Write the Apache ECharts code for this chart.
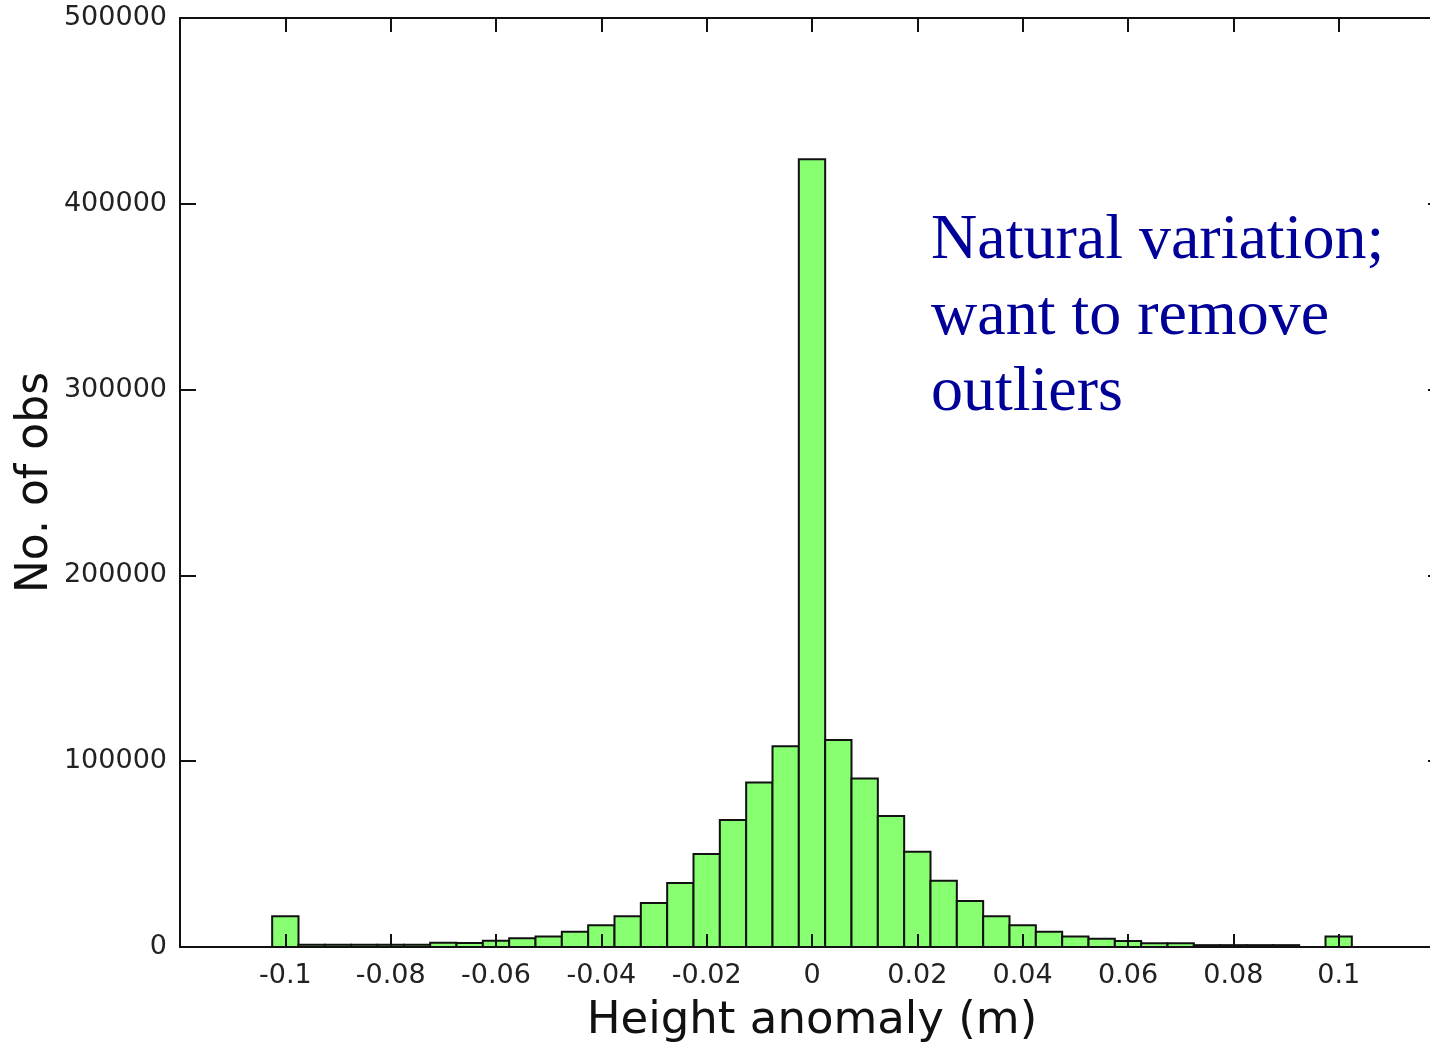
<!DOCTYPE html>
<html>
<head>
<meta charset="utf-8">
<script src="https://cdn.jsdelivr.net/npm/echarts@6/dist/echarts.min.js"></script>
<style>
  html, body { margin: 0; padding: 0; background: #fff; }
  #chart { width: 1430px; height: 1042px; }
</style>
</head>
<body>
<div id="chart"></div>
<script>
// Bin centres (m) of the height-anomaly histogram
const binCentres = [
  -0.100, -0.095, -0.090, -0.085, -0.080, -0.075, -0.070, -0.065, -0.060, -0.055,
  -0.050, -0.045, -0.040, -0.035, -0.030, -0.025, -0.020, -0.015, -0.010, -0.005,
   0.000,
   0.005,  0.010,  0.015,  0.020,  0.025,  0.030,  0.035,  0.040,  0.045,  0.050,
   0.055,  0.060,  0.065,  0.070,  0.075,  0.080,  0.085,  0.090,  0.095,  0.100
];
// Number of observations in each bin
const counts = [
  16500, 1200, 1200, 1200, 1200, 1200, 2300, 2100, 3400, 4700,
  5700, 8200, 11700, 16500, 23700, 34400, 50000, 68300, 88600, 108100,
  424000,
  111400, 90700, 70500, 51300, 35700, 24700, 16500, 11700, 8200, 5700,
  4500, 3200, 2000, 2000, 1000, 1000, 1000, 1000, 0, 5700
];
const binWidth = 0.005;
const xTickLabels = ['-0.1', '-0.08', '-0.06', '-0.04', '-0.02', '0', '0.02', '0.04', '0.06', '0.08', '0.1'];
const yTickLabels = ['0', '100000', '200000', '300000', '400000', '500000'];
const xTitle = 'Height anomaly (m)';
const yTitle = 'No. of obs';
const noteLines = ['Natural variation;', 'want to remove', 'outliers'];

const chart = echarts.init(document.getElementById('chart'), null, { renderer: 'canvas' });

const tickFont = { fontFamily: 'DejaVu Sans', fontSize: 27, color: '#222' };

function xLabel(v) {
  const r = Math.round(v * 100) / 100;
  const s = r === 0 ? '0' : String(r);
  return xTickLabels.indexOf(s) >= 0 ? s : '';
}
function yLabel(v) {
  const s = String(Math.round(v));
  return yTickLabels.indexOf(s) >= 0 ? s : '';
}

const axisLine = { show: true, onZero: false, lineStyle: { color: '#111', width: 2 } };

const option = {
  backgroundColor: '#fff',
  animation: false,
  grid: { left: 180, top: 18, width: 1264, height: 929, containLabel: false, outerBoundsMode: 'none' },
  xAxis: [
    {
      type: 'value', position: 'bottom', min: -0.12, max: 0.12, interval: 0.02,
      z: 10,
      axisLine: axisLine,
      axisTick: { show: true, inside: true, length: 13, lineStyle: { color: '#111', width: 2 } },
      axisLabel: Object.assign({ margin: 15, formatter: xLabel }, tickFont),
      splitLine: { show: false },
      name: xTitle, nameLocation: 'middle', nameGap: 52, nameMoveOverlap: false,
      nameTextStyle: { fontFamily: 'DejaVu Sans', fontSize: 45, color: '#111' }
    },
    {
      type: 'value', position: 'top', min: -0.12, max: 0.12, interval: 0.02,
      z: 10,
      axisLine: axisLine,
      axisTick: { show: true, inside: true, length: 14, lineStyle: { color: '#111', width: 2 } },
      axisLabel: { show: false },
      splitLine: { show: false }
    }
  ],
  yAxis: [
    {
      type: 'value', position: 'left', min: 0, max: 500000, interval: 100000,
      z: 10,
      axisLine: axisLine,
      axisTick: { show: true, inside: true, length: 16, lineStyle: { color: '#111', width: 2 } },
      axisLabel: Object.assign({ margin: 13, formatter: yLabel }, tickFont),
      splitLine: { show: false },
      name: yTitle, nameLocation: 'middle', nameGap: 122, nameMoveOverlap: false,
      nameTextStyle: { fontFamily: 'DejaVu Sans', fontSize: 44, color: '#111' }
    },
    {
      type: 'value', position: 'right', min: 0, max: 500000, interval: 100000,
      z: 10,
      axisLine: axisLine,
      axisTick: { show: true, inside: true, length: 16, lineStyle: { color: '#111', width: 2 } },
      axisLabel: { show: false },
      splitLine: { show: false }
    }
  ],
  series: [
    {
      type: 'custom',
      xAxisIndex: 0,
      yAxisIndex: 0,
      clip: true,
      data: binCentres.map((c, i) => [c, counts[i]]),
      renderItem: function (params, api) {
        const c = api.value(0);
        const v = api.value(1);
        const p0 = api.coord([c - binWidth / 2, v]);
        const p1 = api.coord([c + binWidth / 2, 0]);
        return {
          type: 'rect',
          shape: { x: p0[0], y: p0[1], width: p1[0] - p0[0], height: p1[1] - p0[1] },
          style: { fill: '#88ff70', stroke: '#111', lineWidth: 2 }
        };
      }
    }
  ],
  graphic: [
    {
      type: 'text',
      left: 931,
      top: 203,
      z: 20,
      style: {
        text: noteLines.join('\n'),
        fontFamily: 'Liberation Serif',
        fontSize: 64,
        lineHeight: 76,
        fill: '#000099'
      }
    }
  ]
};

chart.setOption(option);
</script>
</body>
</html>
